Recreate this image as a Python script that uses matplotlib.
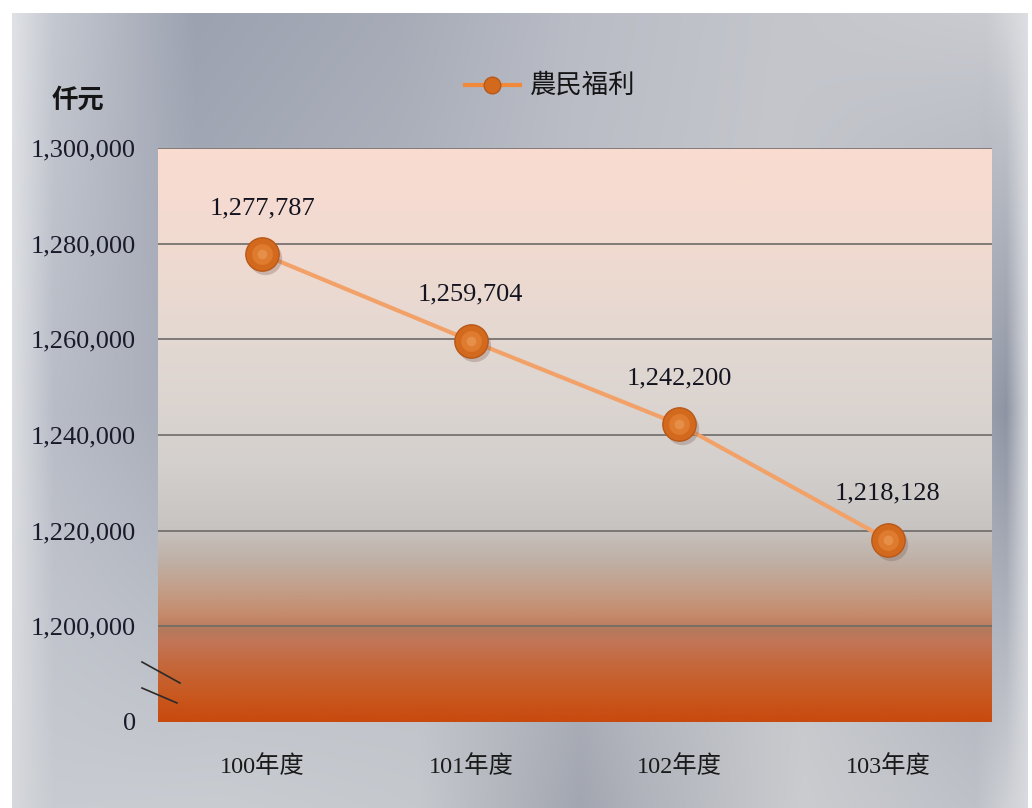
import numpy as np
import matplotlib
matplotlib.use("Agg")
import matplotlib.pyplot as plt
from matplotlib.colors import LinearSegmentedColormap, to_rgb

plt.rcParams['font.family'] = ['Liberation Serif', 'Noto Sans CJK TC', 'DejaVu Sans']

# ---- data ----
categories = ["100年度", "101年度", "102年度", "103年度"]
values = [1277787, 1259704, 1242200, 1218128]
series_name = "農民福利"
unit_label = "仟元"
y_ticks = [1180000, 1200000, 1220000, 1240000, 1260000, 1280000, 1300000]
y_tick_labels = ["0", "1,200,000", "1,220,000", "1,240,000", "1,260,000", "1,280,000", "1,300,000"]

W, H = 1032, 808
fig = plt.figure(figsize=(W / 100, H / 100), dpi=100)
fig.patch.set_facecolor("white")

# ---- metallic background ----
bg = fig.add_axes([12 / W, 0, (1028 - 12) / W, (H - 13) / H], zorder=0)
bg.set_axis_off()
xs = np.linspace(0, 1, 400)
def row(stops):
    pos = [p for p, _ in stops]
    cols = np.array([to_rgb(c) for _, c in stops])
    return np.stack([np.interp(xs, pos, cols[:, k]) for k in range(3)], axis=-1)
top = row([(0, "#dfe1e5"), (0.04, "#c4c8d0"), (0.18, "#9ca2b0"), (0.38, "#a6abb7"),
           (0.55, "#b9bcc5"), (0.75, "#c3c5cb"), (0.96, "#c9cbd0"), (1, "#dcdee1")])
mid = row([(0, "#dcdee2"), (0.04, "#b8bcc6"), (0.15, "#a9aeba"), (0.38, "#b4b8c1"),
           (0.55, "#bdc0c7"), (0.75, "#c5c7cc"), (0.95, "#a0a5b2"), (0.98, "#8e94a3"), (1, "#d0d3d8")])
bot = row([(0, "#d6d8dc"), (0.04, "#c8cbd1"), (0.2, "#c9ccd1"), (0.4, "#c5c8cd"),
           (0.56, "#a2a6b0"), (0.62, "#b0b3bb"), (0.78, "#cacccf"), (0.95, "#bec1c8"), (1, "#d8dadd")])
ys = np.linspace(0, 1, 300)[:, None, None]
img = np.where(ys < 0.5, top[None] * (1 - ys * 2) + mid[None] * (ys * 2),
               mid[None] * (2 - ys * 2) + bot[None] * (ys * 2 - 1))
bg.imshow(img, extent=[0, 1, 0, 1], aspect="auto", origin="upper")
bg.set_xlim(0, 1); bg.set_ylim(0, 1)

# ---- main axes ----
L, R, T, B = 158, 992, 148, 722
ax = fig.add_axes([L / W, 1 - B / H, (R - L) / W, (B - T) / H], zorder=2)
ax.set_xlim(-0.5, len(categories) - 0.5)
ax.set_ylim(y_ticks[0], y_ticks[-1])

# plot-area gradient (top -> bottom)
grad_stops = [(0.00, "#fadcd0"), (0.18, "#f0dad0"), (0.35, "#e2d8d2"), (0.55, "#d4d0cd"),
              (0.66, "#c8c4c1"), (0.72, "#bfb0a6"), (0.78, "#c49a82"), (0.82, "#c48868"),
              (0.84, "#b27a5c"), (0.86, "#c27658"), (0.90, "#c4683c"), (0.95, "#c85a22"),
              (1.00, "#c84a0e")]
cmap = LinearSegmentedColormap.from_list("pa", grad_stops)
g = np.linspace(0, 1, 256)[:, None]
ax.imshow(g, cmap=cmap, aspect="auto", origin="upper",
          extent=[-0.5, len(categories) - 0.5, y_ticks[0], y_ticks[-1]], zorder=0)

for s in ax.spines.values():
    s.set_visible(False)
ax.set_yticks(y_ticks)
ax.set_yticklabels(y_tick_labels, fontsize=19, color="#1a1a2a")
ax.set_xticks(range(len(categories)))
ax.set_xticklabels(categories, fontsize=17.5, color="#1a1a1a")
ax.tick_params(axis="y", length=0, pad=16)
ax.tick_params(axis="x", length=0, pad=24)
for yt in y_ticks[1:]:
    ax.axhline(yt, color="#6e6a68", lw=1.2, zorder=1)

x = np.arange(len(categories))
ax.plot(x, values, color="#f2a268", lw=3, zorder=3, solid_capstyle="round")
# shadow
ax.plot(x, values, "o", ms=24, color="#7a5a50", alpha=0.3, mew=0, zorder=3,
        transform=ax.transData + matplotlib.transforms.ScaledTranslation(3 / 100, -4 / 100, fig.dpi_scale_trans))
ax.plot(x, values, "o", ms=24, color="#d2691c", mec="#b8581a", mew=1, zorder=4)
ax.plot(x, values, "o", ms=15, color="#e88a40", alpha=0.55, mew=0, zorder=5)
ax.plot(x, values, "o", ms=7, color="#f0a868", alpha=0.45, mew=0, zorder=5)

for xi, v in zip(x, values):
    ax.annotate(f"{v:,}", (xi, v), xytext=(0, 33), textcoords="offset points",
                ha="center", va="center", fontsize=19, color="#141420", zorder=6)

# axis break marks
fig.add_artist(plt.Line2D([142 / W, 180 / W], [1 - 662 / H, 1 - 683 / H], color="#2a2a2a", lw=1.2, zorder=5))
fig.add_artist(plt.Line2D([142 / W, 177 / W], [1 - 688 / H, 1 - 703 / H], color="#2a2a2a", lw=1.2, zorder=5))

# unit label
fig.text(78 / W, 1 - 100 / H, unit_label, fontsize=19, fontweight="bold",
         ha="center", va="center", color="#151515", zorder=5)

# legend
lx0, lx1, ly = 465, 520, 85
fig.add_artist(plt.Line2D([lx0 / W, lx1 / W], [1 - ly / H] * 2, color="#f08a3a", lw=3, zorder=5))
fig.add_artist(plt.Line2D([492 / W], [1 - ly / H], marker="o", ms=12, color="#d2691c",
                          mec="#b8581a", zorder=6))
fig.text(530 / W, 1 - ly / H, series_name, fontsize=19, ha="left", va="center",
         color="#151515", zorder=5)

fig.savefig("out.png", dpi=100)
